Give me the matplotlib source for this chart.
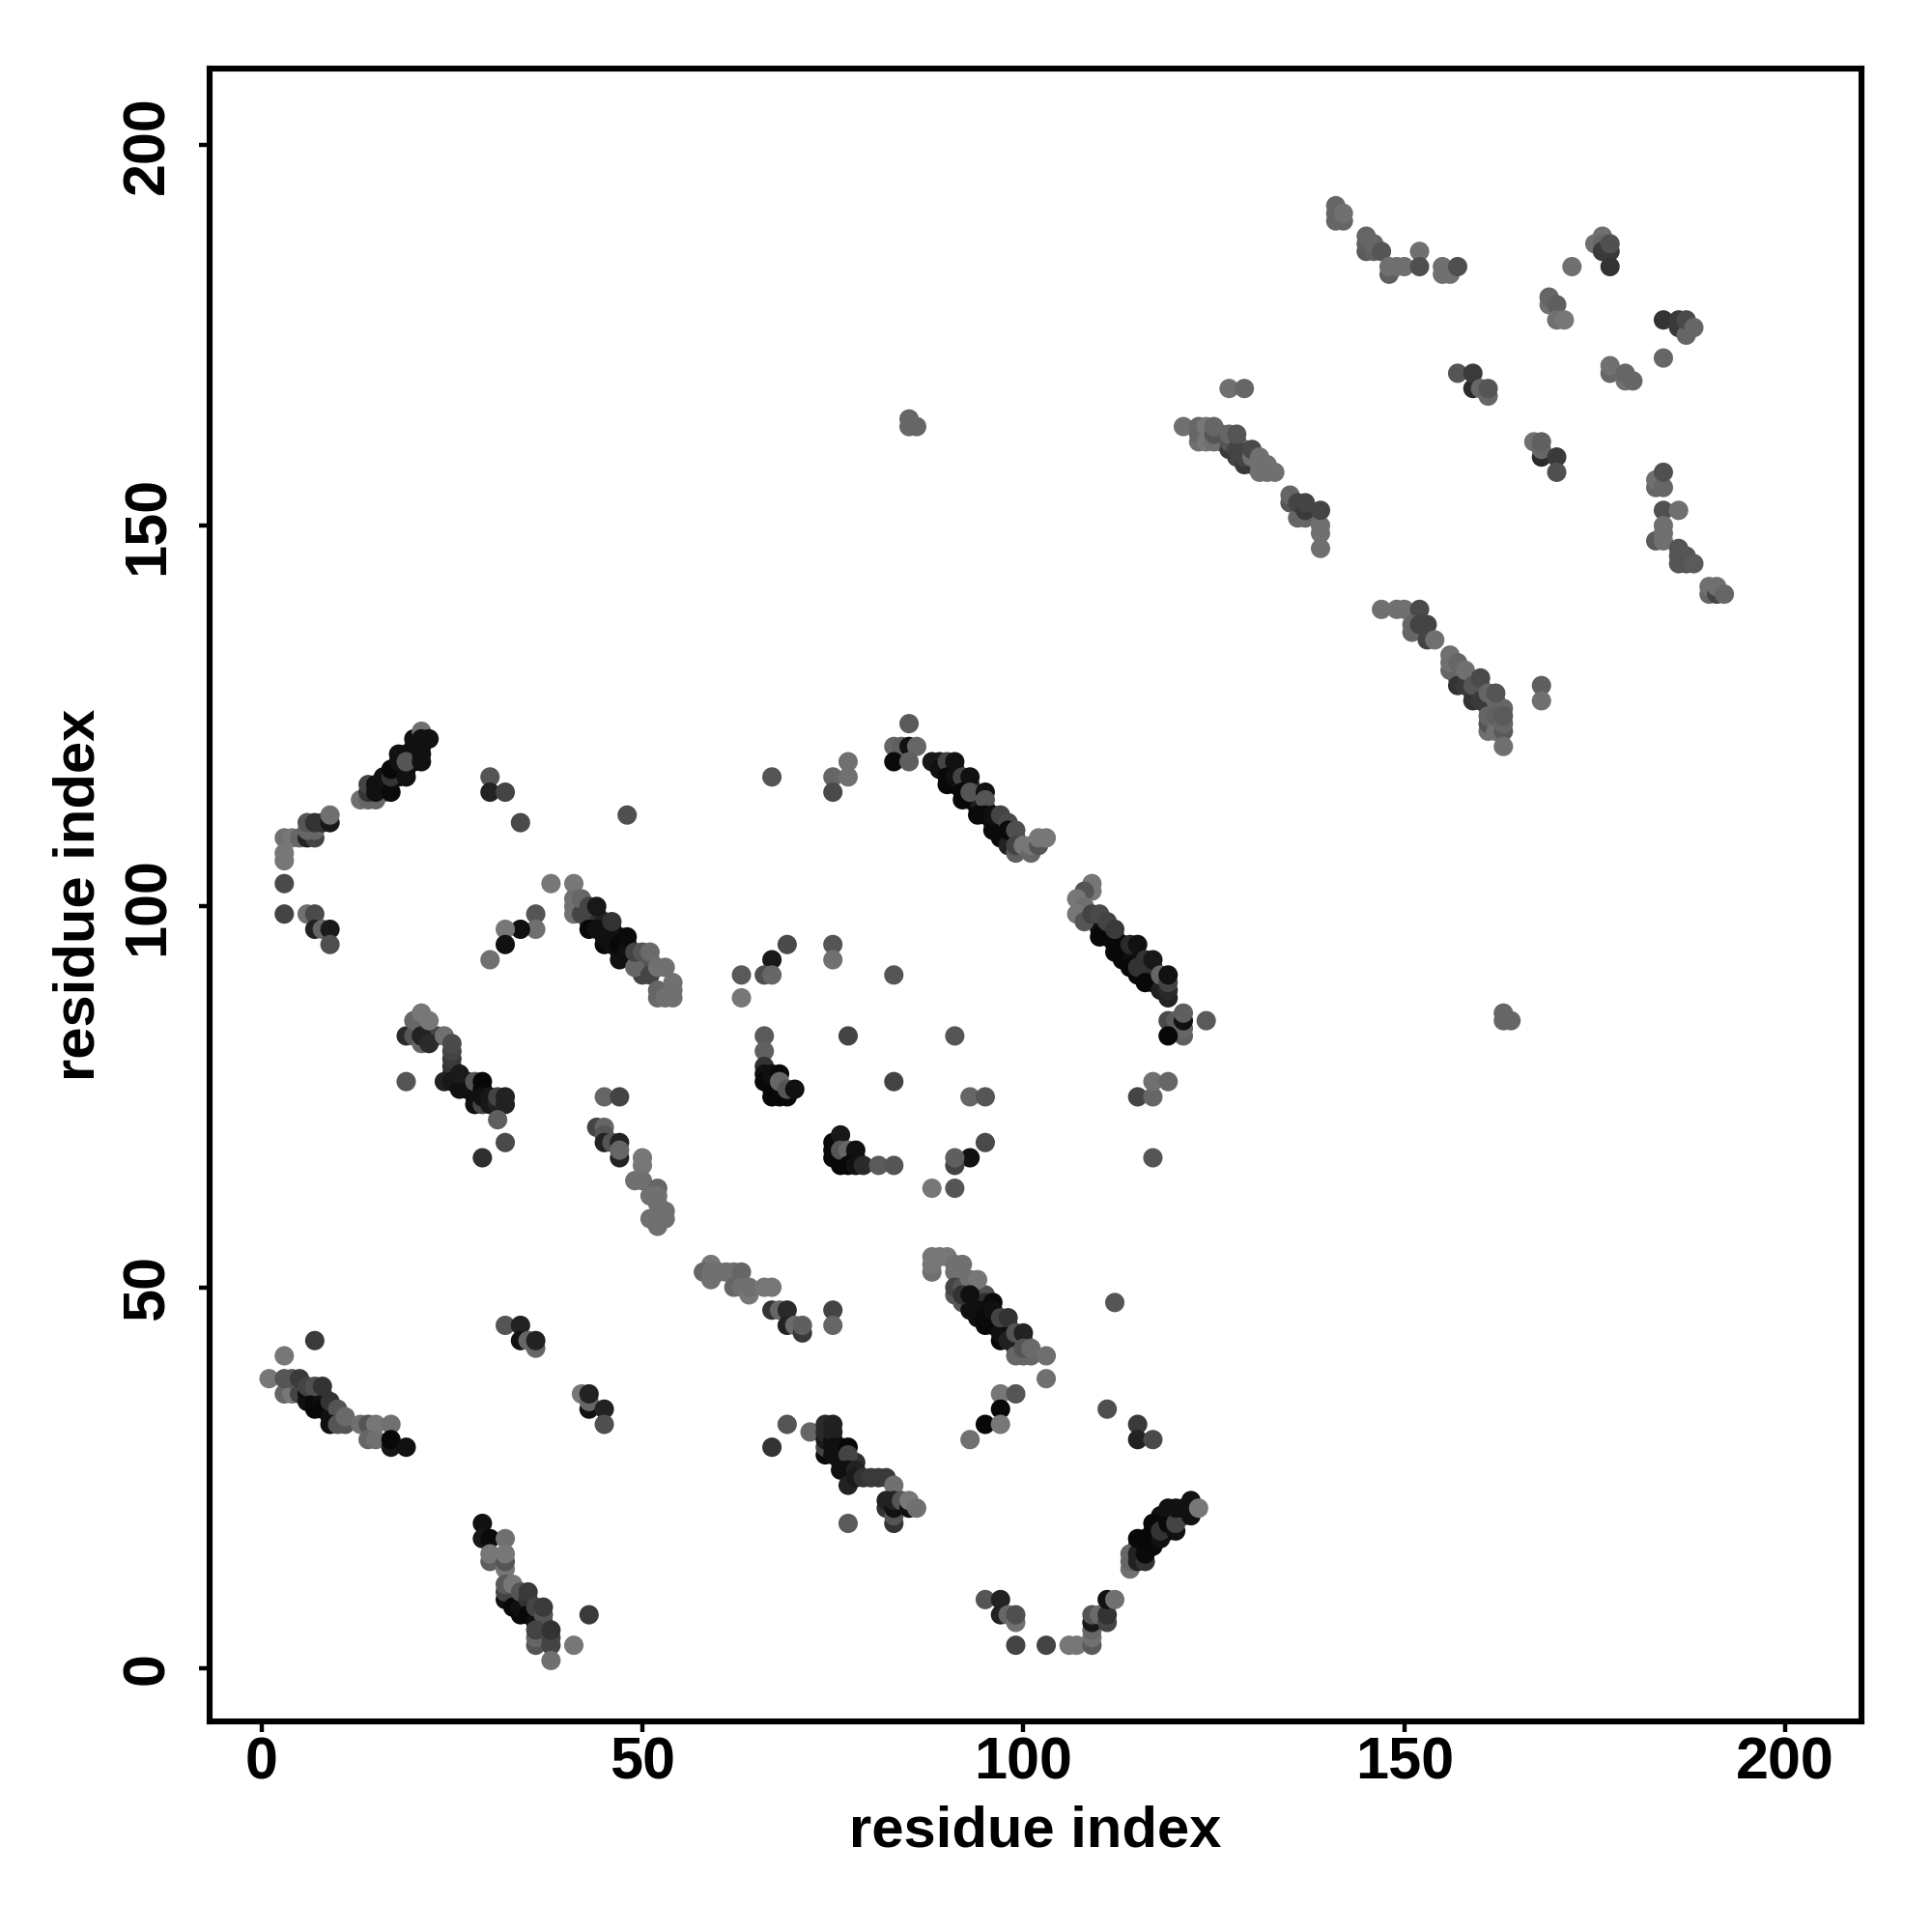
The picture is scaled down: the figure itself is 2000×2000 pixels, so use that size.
import matplotlib
matplotlib.use("Agg")
import matplotlib.pyplot as plt
import numpy as np

ticks = [0, 50, 100, 150, 200]
axis_label = "residue index"

low_left = [(1,38,0x77),(3,41,0x77),(7,43,0x3a),(3,36,0x66),(4,36,0x77),(5,36,0x44),(3,38,0x55),(4,38,0x55),(5,38,0x3a),
    (6,36,0x10),(6,35,0x10),(7,36,0x20),(8,36,0x30),(9,34,0x20),
    (7,35,0x08),(7,34,0x08),(8,35,0x10),(8,34,0x08),(9,33,0x10),(6,37,0x44),(7,37,0x50),(8,37,0x33),(9,35,0x33),(10,34,0x55),
    (9,32,0x10),(10,32,0x55),(11,32,0x55),(11,33,0x6a),(13,32,0x70),(14,32,0x55),(15,32,0x77),(17,32,0x70),
    (14,30,0x66),(15,30,0x70),(17,29,0x18),(17,30,0x08),(19,29,0x11)]

low_mid = [(29,19,0x11),(29,17,0x18),(30,17,0x0a),(32,17,0x70),(30,14,0x5f),(30,15,0x77),(32,13,0x77),(32,14,0x55),(32,15,0x77),
    (33,9,0x10),(33,10,0x20),(34,9,0x10),(35,8,0x10),(36,7,0x30),(37,6,0x30),(37,5,0x20),
    (32,9,0x10),(32,10,0x44),(32,11,0x5a),(33,8,0x08),(34,7,0x08),(34,8,0x10),(33,11,0x77),(34,10,0x55),(35,9,0x33),(35,10,0x3a),
    (35,7,0x08),(36,6,0x10),(36,8,0x44),(37,7,0x55),(37,8,0x3a),(36,3,0x55),(36,4,0x66),(36,5,0x44),
    (38,3,0x44),(38,4,0x44),(38,5,0x33),(38,1,0x70),(41,3,0x77),(43,7,0x3a)]

mid_left_low = [(32,45,0x55),(34,45,0x22),(34,43,0x11),(35,43,0x66),(36,42,0x66),(36,43,0x22),
    (42,36,0x77),(43,34,0x11),(43,35,0x66),(43,36,0x22),(45,34,0x22),(45,32,0x4f)]

band_59 = [(59,53,0x77),(58,52,0x66),(59,51,0x70),(59,52,0x70),(60,52,0x70),(61,52,0x70),(62,52,0x70),(63,52,0x66),(62,50,0x66),
    (63,50,0x70),(64,49,0x77),(64,50,0x70),(66,50,0x77),(67,50,0x77),(67,47,0x33),(68,47,0x66),(69,47,0x2a),(69,45,0x22),
    (70,45,0x6a),(71,44,0x3a),(71,45,0x5f),(75,47,0x44),(75,45,0x66)]

band_88 = [(92,51,0x44),(93,50,0x44),(93,48,0x10),(94,49,0x30),(94,48,0x10),(95,49,0x50),(95,48,0x30),(94,46,0x10),(95,47,0x08),(96,46,0x08),(96,45,0x08),
    (97,45,0x10),(98,45,0x30),(98,44,0x20),(99,43,0x30),(99,42,0x44),(100,43,0x44),
    (88,52,0x70),(88,53,0x77),(88,54,0x77),(89,54,0x77),(90,54,0x77),(91,53,0x70),(92,53,0x70),(91,52,0x70),
    (91,49,0x55),(91,50,0x44),(92,48,0x55),(92,50,0x55),(93,51,0x70),(94,51,0x77),(93,47,0x10),(94,47,0x10),(92,49,0x33),(93,49,0x10),
    (95,45,0x08),(95,46,0x0a),(96,48,0x0a),(96,47,0x10),(97,43,0x08),(97,44,0x10),(97,46,0x44),(98,46,0x33),(98,43,0x20),
    (99,41,0x66),(100,41,0x66),(99,44,0x55),(100,44,0x22),(101,41,0x66),(100,42,0x55),(101,42,0x6a),(103,41,0x70),(103,38,0x70),
    (97,36,0x77),(99,36,0x55),(97,34,0x08),(95,32,0x08),(97,32,0x77),(93,30,0x70),(112,48,0x55),(111,34,0x4f),
    (115,32,0x3a),(115,30,0x22),(117,30,0x4a)]

band_74 = [(69,32,0x55),(72,31,0x66),(67,29,0x33),(74,28,0x0a),(74,29,0x44),(74,30,0x1a),(74,31,0x2a),(74,32,0x2a),(75,32,0x22),
    (75,30,0x10),(75,31,0x20),(75,28,0x10),(76,29,0x10),(76,28,0x10),(76,27,0x10),(77,27,0x10),(78,27,0x30),
    (75,29,0x10),(77,29,0x08),(77,28,0x44),(76,26,0x11),(77,26,0x10),(78,26,0x22),(77,24,0x22),(78,25,0x1a),(79,25,0x33),
    (80,25,0x3a),(81,25,0x3a),(82,25,0x3a),(83,24,0x70),(82,21,0x33),(82,22,0x22),(83,19,0x33),(83,20,0x55),(83,21,0x11),
    (83,22,0x22),(84,22,0x55),(85,21,0x11),(85,22,0x77),(86,21,0x70),(77,19,0x5a)]

low_right = [(118,19,0x10),(118,20,0x10),(119,20,0x10),(117,17,0x08),(117,18,0x08),(119,18,0x10),(120,20,0x10),(121,20,0x10),(116,16,0x10),(115,16,0x20),
    (114,13,0x70),(114,14,0x66),(114,15,0x66),(115,14,0x22),(115,15,0x22),(116,14,0x33),(116,15,0x0a),(115,17,0x08),(116,17,0x08),
    (117,16,0x08),(117,19,0x08),(118,17,0x11),(118,18,0x33),(119,19,0x0a),(119,21,0x11),(120,18,0x11),(120,19,0x44),(120,21,0x11),
    (121,21,0x11),(122,20,0x11),(122,22,0x11),(123,21,0x77),
    (95,9,0x55),(97,7,0x22),(97,9,0x22),(98,7,0x66),(99,6,0x70),(99,7,0x4f),(99,3,0x44),(103,3,0x44),(106,3,0x77),(107,3,0x77),
    (109,3,0x5a),(109,4,0x70),(109,5,0x66),(109,6,0x18),(109,7,0x55),(110,7,0x6a),(111,6,0x44),(111,7,0x33),(111,9,0x11),(112,9,0x70)]

up_left = [(16,116,0x10),(16,117,0x10),(16,115,0x10),(18,118,0x10),(18,117,0x10),(19,118,0x10),(20,119,0x10),(20,120,0x10),(20,121,0x10),(19,120,0x10),(21,121,0x10),
    (13,114,0x70),(14,114,0x66),(15,114,0x66),(14,115,0x33),(14,116,0x44),(15,115,0x11),(15,116,0x11),(17,115,0x0a),(17,117,0x33),
    (17,118,0x08),(18,119,0x10),(18,120,0x11),(19,117,0x11),(19,119,0x55),(21,119,0x11),(21,120,0x11),(20,122,0x11),(21,123,0x70),
    (21,122,0x11),(22,122,0x11),
    (3,109,0x70),(4,109,0x77),(5,109,0x66),(6,109,0x22),(7,109,0x44),(6,110,0x66),(7,110,0x66),(6,111,0x55),(7,111,0x33),(8,111,0x33),
    (9,111,0x18),(9,112,0x70),(3,106,0x77),(3,107,0x77),(3,103,0x4a),(3,99,0x44),(6,99,0x70),(7,99,0x4a),(7,97,0x22),(8,97,0x66),
    (9,97,0x1a),(9,95,0x4f),(30,117,0x55),(30,115,0x22),(32,115,0x44),(34,111,0x4a),(48,112,0x50),
    (38,103,0x77),(36,99,0x55),(36,97,0x70),(34,97,0x10),(32,97,0x77),(32,95,0x11),(30,93,0x70)]

band_41 = [(43,99,0x30),(43,98,0x08),(44,98,0x10),(44,99,0x30),(45,97,0x08),(45,98,0x20),(46,96,0x08),(46,97,0x10),(47,96,0x10),(47,94,0x08),(48,95,0x08),(49,93,0x10),
    (50,93,0x44),(50,92,0x44),(51,92,0x66),(51,93,0x55),
    (41,103,0x77),(41,99,0x70),(41,100,0x70),(41,101,0x70),(42,99,0x44),(42,101,0x66),(43,97,0x08),(43,100,0x44),(44,97,0x10),
    (44,100,0x18),(45,95,0x08),(45,96,0x10),(46,95,0x10),(46,98,0x33),(47,93,0x11),(47,95,0x08),(48,94,0x10),(48,96,0x0a),
    (50,91,0x44),(49,92,0x66),(49,94,0x44),(50,94,0x55),(51,91,0x44),(51,94,0x6a),(52,88,0x6a),(52,89,0x66),(52,92,0x70),
    (53,88,0x70),(53,92,0x70),(54,88,0x70),(54,89,0x70),(54,90,0x70)]

band_21 = [(25,78,0x20),(26,77,0x10),(27,76,0x10),(27,77,0x10),(28,75,0x10),(28,76,0x10),(23,83,0x44),
    (19,83,0x2a),(20,83,0x55),(20,85,0x66),(21,82,0x66),(21,83,0x22),(22,82,0x2a),(21,86,0x77),(22,85,0x77),(24,83,0x70),
    (25,79,0x33),(25,80,0x3a),(25,81,0x44),(25,82,0x4a),(24,77,0x22),(25,77,0x18),(26,76,0x11),(26,78,0x1a),(28,74,0x11),(28,77,0x55),
    (29,76,0x08),(29,77,0x08),(29,74,0x44),(29,75,0x10),(30,74,0x18),(30,75,0x18),(31,74,0x22),(31,75,0x44),(32,74,0x22),(32,75,0x22),
    (19,77,0x55),(31,72,0x5f),(32,69,0x4a),(29,67,0x2f)]

band_45 = [(45,75,0x66),(47,75,0x44),(44,71,0x44),(45,71,0x66),(45,70,0x55),(45,69,0x22),(46,69,0x55),(47,69,0x22),(47,67,0x22),(47,68,0x66),
    (50,67,0x77),(50,66,0x77),(49,64,0x70),(50,64,0x70),(52,63,0x66),(51,62,0x70),(52,62,0x70),(52,61,0x70),(51,59,0x70),(52,58,0x70),
    (53,59,0x70),(53,60,0x70)]

ring = [(67,117,0x55),(75,117,0x66),(77,119,0x70),(77,117,0x70),(75,115,0x4a),(85,124,0x5a),(83,121,0x66),(84,121,0x5f),(85,121,0x11),
    (86,121,0x66),(83,119,0x0a),(85,119,0x5f),
    (69,95,0x4a),(67,93,0x18),(66,91,0x4f),(67,91,0x66),(63,91,0x5a),(63,88,0x77),(75,95,0x55),(75,93,0x70),(83,91,0x55),
    (67,77,0x08),(67,76,0x08),(68,76,0x08),(66,83,0x5a),(66,81,0x60),(66,79,0x33),(66,78,0x11),(66,77,0x0a),(67,78,0x10),(68,78,0x0a),(67,75,0x08),(68,75,0x08),(69,75,0x08),
    (68,77,0x66),(69,76,0x55),(70,76,0x11),(77,83,0x44),(91,83,0x55),(83,77,0x44),(93,75,0x66),(95,75,0x55),(115,75,0x44),(117,75,0x66),
    (117,77,0x70),(119,77,0x66),(117,67,0x55),(95,69,0x4a),(93,67,0x11),(91,66,0x44),(91,67,0x5f),(88,63,0x77),(91,63,0x55),
    (76,67,0x08),(76,66,0x08),(77,67,0x08),(75,67,0x08),(75,68,0x0a),(75,69,0x08),(76,70,0x18),(76,68,0x55),(77,68,0x66),(78,67,0x0a),(78,68,0x11),(77,66,0x08),(78,66,0x11),
    (79,66,0x2a),(81,66,0x5a),(83,66,0x55)]

band_88_up = [(90,118,0x10),(91,118,0x20),(91,116,0x08),(92,116,0x20),(93,114,0x08),(93,116,0x30),(94,113,0x08),(94,114,0x20),(95,113,0x08),(96,111,0x08),
    (97,110,0x08),(97,111,0x20),(97,109,0x08),(98,109,0x10),(99,109,0x30),
    (88,119,0x18),(89,119,0x18),(89,118,0x10),(90,119,0x44),(91,119,0x11),(90,116,0x08),(90,117,0x08),(91,117,0x10),(92,117,0x44),
    (93,117,0x11),(92,114,0x08),(92,115,0x08),(93,115,0x55),(95,115,0x11),(95,114,0x55),(94,112,0x0a),(95,112,0x0a),(96,110,0x0a),
    (96,112,0x10),(97,112,0x44),(98,111,0x4a),(98,108,0x22),(98,110,0x0a),(99,110,0x50),(99,107,0x5f),(99,108,0x44),(100,108,0x77),
    (101,107,0x66),(101,108,0x77),(102,108,0x55),(102,109,0x77),(103,109,0x77)]

band_107 = [(110,98,0x10),(111,97,0x10),(110,97,0x10),(112,96,0x08),(113,95,0x08),(113,94,0x08),(113,93,0x08),(114,93,0x08),(114,94,0x10),(115,93,0x10),(115,91,0x08),
    (116,91,0x08),(116,92,0x10),(117,90,0x08),(117,91,0x08),(117,92,0x30),(118,90,0x10),
    (109,103,0x77),(109,102,0x77),(108,102,0x55),(107,101,0x77),(108,100,0x70),(107,99,0x77),(108,98,0x55),(109,99,0x44),
    (110,96,0x08),(111,96,0x08),(110,99,0x4a),(111,98,0x44),(112,94,0x08),(112,95,0x08),(112,97,0x3a),(114,92,0x08),(114,95,0x2a),
    (115,92,0x33),(115,95,0x11),(116,90,0x08),(116,93,0x33),(117,93,0x18),(118,89,0x20),(118,91,0x66),(119,88,0x22),(119,89,0x2a),
    (119,90,0x44),(119,91,0x11),(119,85,0x4a),(120,85,0x5a),(121,83,0x60),(121,84,0x66),(121,85,0x11),(121,86,0x5f),(119,83,0x08),(124,85,0x5a)]

up_right_a = [(126,161,0x55),(126,162,0x66),(128,161,0x44),(128,159,0x44),(129,160,0x66),(130,158,0x55),(124,162,0x70),
    (127,168,0x70),(129,168,0x66),(121,163,0x70),(123,161,0x70),(123,162,0x66),(123,163,0x66),(124,161,0x77),(124,163,0x77),
    (125,161,0x70),(125,162,0x55),(125,163,0x66),(127,160,0x3a),(127,161,0x55),(127,162,0x66),(128,160,0x44),(128,162,0x55),
    (129,158,0x3a),(129,159,0x44),(130,159,0x70),(130,160,0x4a),(131,157,0x70),(131,158,0x70),(131,159,0x70),(132,157,0x70),(132,158,0x70),
    (133,157,0x70),(135,153,0x55),(135,154,0x66),(136,151,0x66),(137,151,0x66),(136,153,0x44),(137,152,0x3a),(137,153,0x44),
    (139,147,0x70),(139,149,0x70),(139,150,0x70),(139,152,0x44),(85,163,0x66),(85,164,0x66),(86,163,0x66)]

up_right_b = [(157,130,0x44),(158,130,0x66),(159,128,0x44),(160,128,0x55),(160,129,0x66),(161,127,0x66),(162,126,0x66),(161,126,0x70),(163,126,0x66),(157,131,0x66),
    (147,139,0x70),(149,139,0x70),(150,139,0x70),(152,139,0x4a),(151,136,0x66),(151,137,0x66),(152,137,0x44),(153,135,0x44),
    (153,137,0x44),(154,135,0x70),(156,131,0x66),(156,132,0x70),(156,133,0x70),(157,132,0x66),(157,129,0x33),(158,129,0x3a),(158,131,0x70),
    (159,127,0x33),(159,129,0x55),(160,127,0x3a),(160,130,0x4a),(161,128,0x66),(162,127,0x66),(162,128,0x55),(161,123,0x70),(161,124,0x55),
    (161,125,0x66),(162,123,0x70),(162,125,0x60),(163,123,0x5a),(163,124,0x66),(163,125,0x5a),(163,121,0x70),(168,129,0x5f),(168,127,0x70),
    (163,86,0x66),(163,85,0x66),(164,85,0x66)]

top_right = [(141,190,0x66),(141,191,0x66),(141,192,0x66),(142,190,0x66),(142,191,0x70),(145,186,0x5a),(145,187,0x5f),(145,188,0x66),(146,186,0x60),
    (146,187,0x66),(147,186,0x55),(148,183,0x5f),(148,184,0x70),(149,184,0x70),(150,184,0x70),(152,186,0x70),(152,184,0x4f),
    (155,183,0x70),(155,184,0x70),(156,183,0x70),(157,184,0x4f),(172,184,0x70),(175,187,0x70),(176,188,0x70),(176,187,0x66),(176,186,0x3a),
    (177,186,0x3a),(177,187,0x50),(177,184,0x33),(169,179,0x70),(169,180,0x66),(170,179,0x5f),(170,177,0x70),(171,177,0x77),
    (184,177,0x33),(186,176,0x3a),(186,177,0x3a),(187,175,0x66),(187,177,0x4a),(188,176,0x66),(184,172,0x66),
    (177,170,0x66),(177,171,0x70),(179,169,0x70),(179,170,0x66),(180,169,0x66),(157,170,0x55),(159,168,0x2a),(159,170,0x3a),
    (160,168,0x66),(161,167,0x66),(161,168,0x55),(167,161,0x70),(168,159,0x2a),(168,160,0x66),(168,161,0x60),(170,159,0x3a),(170,157,0x50),
    (183,155,0x66),(183,156,0x70),(184,155,0x66),(184,157,0x50),(184,152,0x50),(186,152,0x70),(183,148,0x5a),(184,148,0x70),(184,149,0x70),
    (184,150,0x70),(186,145,0x55),(186,146,0x55),(186,147,0x55),(187,145,0x55),(187,146,0x55),(188,145,0x5a),
    (190,141,0x66),(190,142,0x70),(191,141,0x44),(191,142,0x70),(192,141,0x66)]

groups = [low_left, low_mid, mid_left_low, band_59, band_88, band_74, low_right, up_left, band_41, band_21,
          band_45, ring, band_88_up, band_107, up_right_a, up_right_b, top_right]

plt.rcParams["font.family"] = ["Liberation Sans", "DejaVu Sans"]
plt.rcParams["font.weight"] = "bold"

fig = plt.figure(figsize=(10, 10), dpi=200)
ax = fig.add_axes([0.1085, 0.109, 0.855, 0.8555])

for g in groups:
    pts = np.array(g)
    ax.scatter(pts[:, 0], pts[:, 1], c=pts[:, 2], cmap="gray", vmin=0, vmax=255, s=52, linewidths=0, zorder=3)

ax.set_xlim(-6.8, 210)
ax.set_ylim(-7, 210)
ax.set_xticks(ticks)
ax.set_yticks(ticks)
ax.tick_params(axis="x", length=4, width=1.6, labelsize=22, pad=1.5)
ax.tick_params(axis="y", length=4, width=1.6, labelsize=22, pad=8.5)
for lab in ax.get_yticklabels():
    lab.set_rotation(90)
    lab.set_va("center")
for s in ax.spines.values():
    s.set_linewidth(2.2)
ax.set_xlabel(axis_label, fontsize=21.5, fontweight="bold", labelpad=5)
ax.set_ylabel(axis_label, fontsize=21.5, fontweight="bold", labelpad=5.5)

fig.savefig("out.png", dpi=200)
